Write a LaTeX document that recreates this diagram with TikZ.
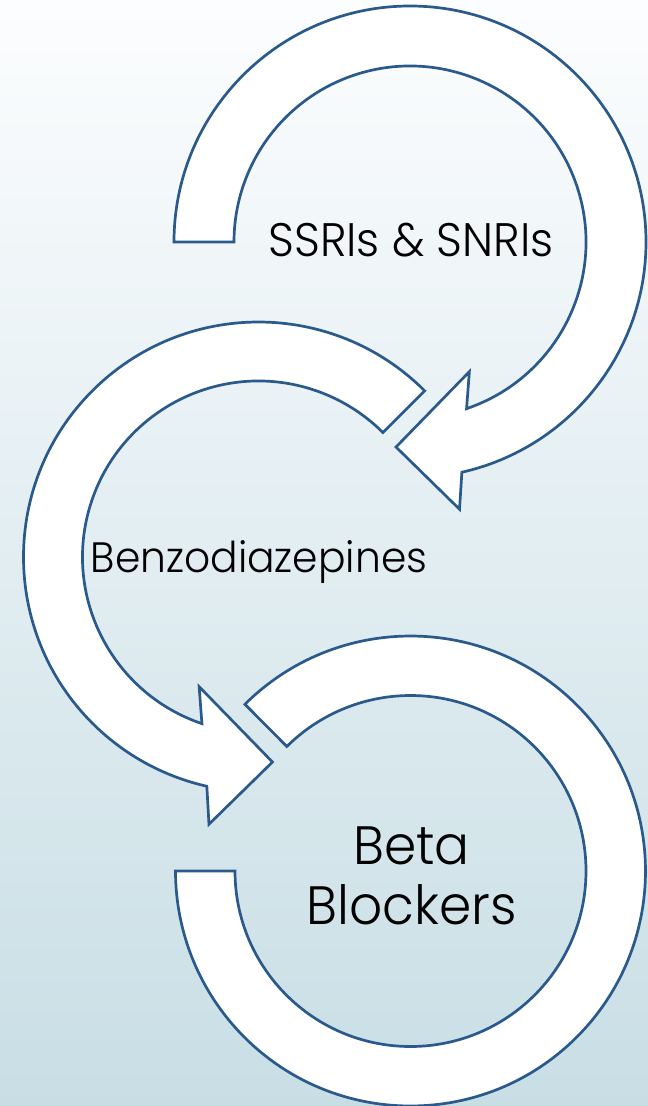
\documentclass[tikz,border=0pt]{standalone}
\usepackage{fontspec}
\setmainfont{Poppins}[UprightFont={* Light}, FakeStretch=0.96]
\definecolor{bgtop}{HTML}{FCFDFE}
\definecolor{bgbot}{HTML}{C8DEE5}
\definecolor{ringblue}{HTML}{2A5A8C}
\begin{document}
\begin{tikzpicture}[x=1pt,y=1pt,
  ring/.style={draw=ringblue, fill=white, line width=2.7pt, line join=miter},
  steptext/.style={text=black, inner sep=0pt, anchor=base}]
  % background
  \fill[top color=bgtop, bottom color=bgbot] (0,0) rectangle (648,-1106);
  \useasboundingbox (0,0) rectangle (648,-1106);

  % centres of the three circular arrows
  \coordinate (c1) at (410,-242);
  \coordinate (c2) at (258.5,-557);
  \coordinate (c3) at (410.5,-871);

  % first arrow: clockwise, tail on the left
  \draw[ring, shift={(c1)}] (180:236) arc[start angle=180, end angle=-77.3, radius=236]
    -- (-79.5:271.8) -- (-93.9:205.5) -- (-65.4:142.6) -- (-71.25:176)
    arc[start angle=-71.25, end angle=180, radius=176] -- cycle;

  % second arrow: counter-clockwise, tail at upper right
  \draw[ring, shift={(c2)}] (45:235) arc[start angle=45, end angle=257.3, radius=235]
    -- (259.5:271.8) -- (273.9:205.5) -- (245.4:142.6) -- (251.25:176)
    arc[start angle=251.25, end angle=45, radius=176] -- cycle;

  % third ring segment
  \draw[ring, shift={(c3)}] (134.8:235) arc[start angle=134.8, end angle=-180, radius=235]
    -- (180:175.5) arc[start angle=-180, end angle=134.8, radius=175.5] -- cycle;

  % labels
  \node[steptext, font=\fontsize{47}{56}\selectfont] (t1) at (411,-256.7) {SSRIs \& SNRIs};
  \node[steptext, font=\fontsize{42.5}{50}\selectfont] (t2) at (259,-572.3) {Benzodiazepines};
  \node[steptext, font=\fontsize{54}{60}\selectfont] (t3a) at (411.5,-864) {Beta};
  \node[steptext, font=\fontsize{54}{60}\selectfont] (t3b) at (412,-924) {Blockers};
\end{tikzpicture}
\end{document}
